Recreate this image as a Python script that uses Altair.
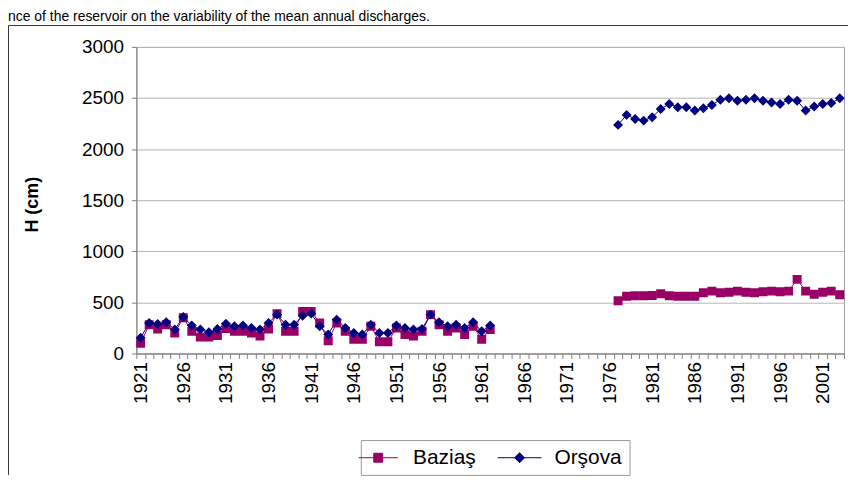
import json
import altair as alt
import pandas as pd

TITLE_TEXT = "nce of the reservoir on the variability of the mean annual discharges."
SERIES = ["Baziaş", "Orşova"]
COLORS = ["#990066", "#000080"]

YEARS_EARLY = list(range(1921, 1963))
YEARS_LATE = list(range(1977, 2004))
ALL_YEARS = list(range(1921, 2004))
X_LABEL_YEARS = [1921, 1926, 1931, 1936, 1941, 1946, 1951, 1956, 1961, 1966,
                 1971, 1976, 1981, 1986, 1991, 1996, 2001]
Y_TICKS = [0, 500, 1000, 1500, 2000, 2500, 3000]

BAZIAS_EARLY = [100, 282, 240, 282, 201, 350, 217, 160, 160, 175,
                243, 217, 217, 201, 170, 240, 390, 217, 217, 412,
                412, 299, 125, 299, 217, 140, 140, 266, 115, 115,
                250, 185, 170, 217, 380, 282, 217, 250, 185, 266,
                140, 234]
ORSOVA_EARLY = [153, 299, 289, 305, 234, 357, 273, 234, 208, 240,
                292, 266, 273, 250, 234, 299, 380, 282, 282, 370,
                390, 266, 185, 331, 250, 201, 185, 282, 201, 201,
                273, 250, 234, 240, 380, 305, 266, 282, 250, 305,
                217, 273]
BAZIAS_LATE = [516, 560, 565, 565, 568, 585, 565, 560, 560, 560,
               595, 610, 595, 600, 610, 600, 595, 605, 610, 605,
               610, 725, 610, 580, 600, 610, 575]
ORSOVA_LATE = [2237, 2335, 2295, 2279, 2312, 2393, 2442, 2409, 2409, 2377,
               2399, 2432, 2484, 2497, 2474, 2484, 2497, 2474, 2457, 2442,
               2484, 2474, 2377, 2418, 2442, 2451, 2497]

rows = []
for name, early, late in [(SERIES[0], BAZIAS_EARLY, BAZIAS_LATE),
                          (SERIES[1], ORSOVA_EARLY, ORSOVA_LATE)]:
    for yr, v in zip(YEARS_EARLY, early):
        rows.append({"year": yr, "H": v, "series": name, "seg": name + "-a"})
    for yr, v in zip(YEARS_LATE, late):
        rows.append({"year": yr, "H": v, "series": name, "seg": name + "-b"})
df = pd.DataFrame(rows)

FONT = "Liberation Sans"

x_scale = alt.Scale(type="band", domain=ALL_YEARS, paddingInner=0, paddingOuter=0)
y_scale = alt.Scale(domain=[0, 3000], nice=False)
color_scale = alt.Scale(domain=SERIES, range=COLORS)

label_expr = "indexof(" + json.dumps(X_LABEL_YEARS) + ", datum.value) >= 0 ? datum.label : ''"

x_axis = alt.Axis(title=None, labelAngle=-90, labelExpr=label_expr, tickBand="extent",
                  tickSize=5, labelPadding=3, labelFontSize=19, labelFont=FONT,
                  labelColor="black", grid=False, domainColor="#808080",
                  tickColor="#808080", labelOverlap=False)
y_axis = alt.Axis(values=Y_TICKS, format="d", title="H (cm)", titleFont=FONT,
                  titleFontSize=18, titleFontWeight="bold", titleColor="black",
                  titleX=-104, titleY=158, titleAngle=-90, titleAlign="center",
                  titleBaseline="middle", labelFont=FONT, labelFontSize=19,
                  labelColor="black", labelPadding=8, tickSize=5, tickColor="#808080",
                  domainColor="#808080", grid=True, gridColor="#b4b4b4")

# marker shapes: the horizontal stroke only shows in the legend (data points are fill-only)
SQ_PATH = "M-4.4,0L4.4,0M-1,-1L1,-1L1,1L-1,1Z"
DI_PATH = "M-4.4,0L4.4,0M-1,0L0,-1L1,0L0,1Z"

legend = alt.Legend(orient="none", legendX=225.5, legendY=395, direction="horizontal",
                    title=None, labelFont=FONT, labelFontSize=21,
                    labelColor="black", labelOffset=24.5, columnPadding=19, padding=7,
                    strokeColor="#999999", fillColor="white", symbolSize=121,
                    symbolStrokeWidth=1)

X = alt.X("year:O", scale=x_scale, axis=x_axis)
Y = alt.Y("H:Q", scale=y_scale, axis=y_axis)

lines = alt.Chart(df).mark_line(strokeWidth=1).encode(
    x=X, y=Y,
    color=alt.Color("series:N", scale=color_scale, legend=legend),
    detail="seg:N",
)

points = alt.Chart(df).mark_point(filled=True, opacity=1).encode(
    x=X, y=Y,
    color=alt.Color("series:N", scale=color_scale, legend=legend),
    shape=alt.Shape("series:N", scale=alt.Scale(domain=SERIES, range=[SQ_PATH, DI_PATH]),
                    legend=legend),
    size=alt.Size("series:O", scale=alt.Scale(domain=SERIES, range=[81, 100]), legend=None),
)

dummy = pd.DataFrame({"t": [TITLE_TEXT]})
border_left = alt.Chart(dummy).mark_rule(color="#333333", strokeWidth=1).encode(
    x=alt.value(-128.5), y=alt.value(-21.5), y2=alt.value(430))
border_top = alt.Chart(dummy).mark_rule(color="#333333", strokeWidth=1).encode(
    x=alt.value(-128.5), x2=alt.value(720), y=alt.value(-21.5))
cut_title = alt.Chart(dummy).mark_text(align="left", baseline="alphabetic", font=FONT,
                                       fontSize=14, color="black").encode(
    text="t:N", x=alt.value(-129), y=alt.value(-26))

chart = alt.layer(lines, points, border_left, border_top, cut_title).properties(
    width=711, height=308,
    autosize=alt.AutoSizeParams(type="none"),
    padding={"left": 129, "top": 38, "right": 4, "bottom": 124},
).configure_view(stroke="#a0a0a0", strokeWidth=1)

chart.save("out.html", embed_options={"renderer": "svg", "actions": False})
